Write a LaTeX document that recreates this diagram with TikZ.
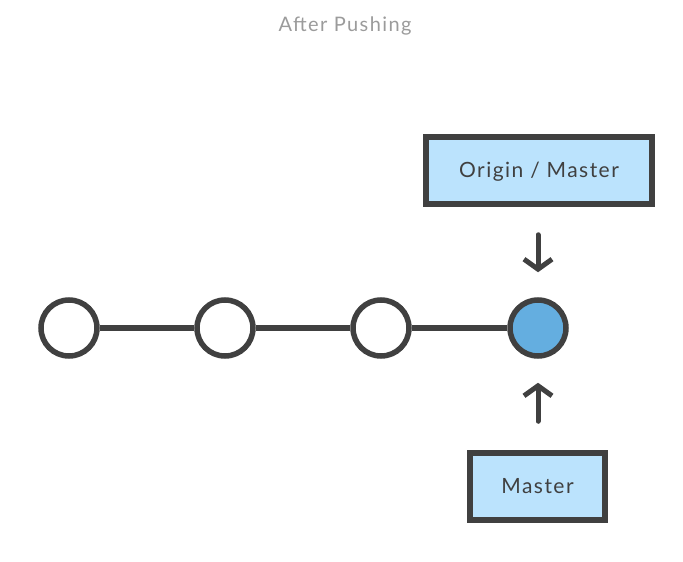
\documentclass[tikz,border=0pt]{standalone}
\usepackage{fontspec}
\setmainfont{Lato}[LetterSpace=7]
\usetikzlibrary{arrows.meta}
\definecolor{ink}{HTML}{404040}
\definecolor{boxfill}{HTML}{BBE3FD}
\definecolor{headfill}{HTML}{64AEE0}
\definecolor{titlegrey}{HTML}{9B9B9B}
\tikzset{
  commit/.style={draw=ink,line width=5.5pt,circle,minimum size=56pt,inner sep=0pt,fill=white},
  ref/.style={draw=ink,line width=5.5pt,rectangle,fill=boxfill,minimum height=67pt,inner sep=0pt,text=ink,text height=13pt,text depth=0pt,font=\fontsize{21}{24}\selectfont},
  pointer/.style={draw=ink,line width=5pt,line cap=round,line join=round,-{Straight Barb[length=10pt,width=28pt]}}
}
\begin{document}
\begin{tikzpicture}[x=1pt,y=-1pt]
\useasboundingbox (0,0) rectangle (683,562);

\node [text=titlegrey,font=\fontsize{20}{24}\selectfont] (title) at(345,26){After Pushing};

\node [commit] (c1) at(69,328){};
\node [commit] (c2) at(225,328){};
\node [commit] (c3) at(381,328){};
\node [commit,fill=headfill] (c4) at(538,328){};

\node [ref,minimum width=226pt] (om) at(539,170.5){Origin / Master};
\node [ref,minimum width=135pt] (m) at(537.5,486.5){Master};

\draw[draw=ink,line width=5.5pt](c1) -- (c2);
\draw[draw=ink,line width=5.5pt](c2) -- (c3);
\draw[draw=ink,line width=5.5pt](c3) -- (c4);
\draw[pointer,shorten <=28pt,shorten >=25pt](om.south -| c4) -- (c4);
\draw[pointer,shorten <=29pt,shorten >=24pt](m.north -| c4) -- (c4);
\end{tikzpicture}
\end{document}
